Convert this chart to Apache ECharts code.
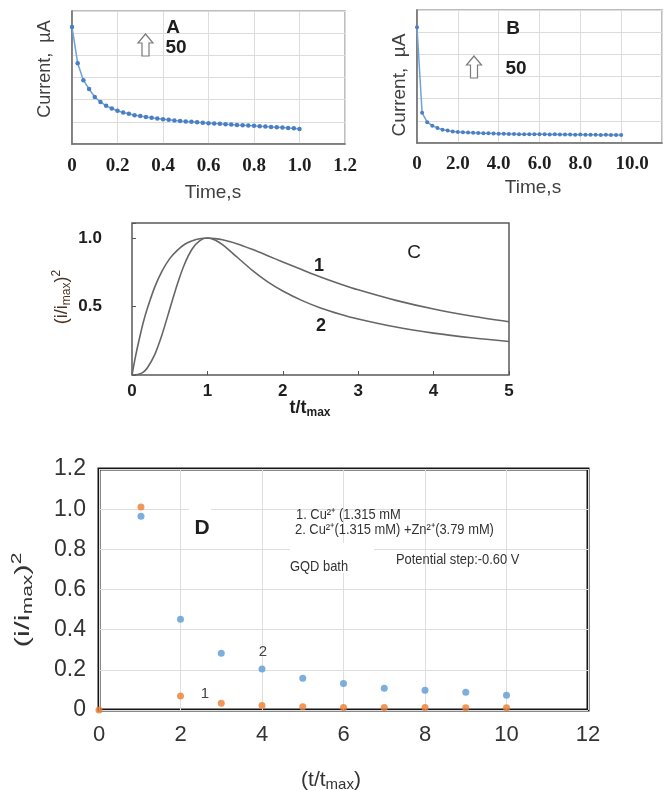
<!DOCTYPE html>
<html><head><meta charset="utf-8">
<script src="https://cdn.jsdelivr.net/npm/echarts@6/dist/echarts.min.js"></script>
<style>html,body{margin:0;padding:0;background:#fff}#c{width:665px;height:791px}</style>
</head><body><div id="c"></div><script>
// ---- Panel A: current transient (0-1 s) ----
const timeA = [0, 0.025, 0.05, 0.075, 0.1, 0.125, 0.15, 0.175, 0.2, 0.225, 0.25, 0.275, 0.3, 0.325, 0.35, 0.375, 0.4, 0.425, 0.45, 0.475, 0.5, 0.525, 0.55, 0.575, 0.6, 0.625, 0.65, 0.675, 0.7, 0.725, 0.75, 0.775, 0.8, 0.825, 0.85, 0.875, 0.9, 0.925, 0.95, 0.975, 1.0];
const currentA = [264, 182, 144, 124, 106, 95, 86, 80, 75, 71, 68, 65, 63, 61, 59, 57.5, 56, 54.5, 53, 52, 51, 50, 49, 48, 47, 46, 45.5, 44.5, 44, 43, 42.5, 41.5, 41, 40, 39.5, 38.5, 38, 37, 36, 35.5, 34];
// ---- Panel B: current transient (0-10 s) ----
const timeB = [0, 0.25, 0.5, 0.75, 1, 1.25, 1.5, 1.75, 2, 2.25, 2.5, 2.75, 3, 3.25, 3.5, 3.75, 4, 4.25, 4.5, 4.75, 5, 5.25, 5.5, 5.75, 6, 6.25, 6.5, 6.75, 7, 7.25, 7.5, 7.75, 8, 8.25, 8.5, 8.75, 9, 9.25, 9.5, 9.75, 10];
const currentB = [261, 68, 47, 39, 34, 30, 28, 26, 25, 24, 23.5, 23, 22.5, 22, 22, 21.5, 21, 21, 20.5, 20.5, 20, 20, 19.5, 20, 19.5, 19.5, 19, 19.5, 19, 19, 19, 18.5, 19, 18.5, 18.5, 18.5, 18, 18.5, 18, 18, 18];
// ---- Panel C: dimensionless transients, curves 1 and 2 ----
const tC = [0, 0.05, 0.1, 0.15, 0.2, 0.3, 0.4, 0.5, 0.6, 0.7, 0.8, 0.9, 1.0, 1.1, 1.2, 1.4, 1.6, 1.8, 2.0, 2.25, 2.5, 2.75, 3.0, 3.5, 4.0, 4.5, 5.0];
const curveC1 = [0, 0.145, 0.27, 0.385, 0.48, 0.64, 0.76, 0.85, 0.91, 0.955, 0.98, 0.995, 1.0, 0.996, 0.987, 0.957, 0.916, 0.871, 0.825, 0.77, 0.716, 0.667, 0.622, 0.545, 0.482, 0.431, 0.389];
const curveC2 = [0, 0.001, 0.007, 0.021, 0.049, 0.147, 0.298, 0.48, 0.661, 0.814, 0.922, 0.982, 1.0, 0.986, 0.952, 0.858, 0.762, 0.68, 0.613, 0.545, 0.49, 0.446, 0.409, 0.35, 0.306, 0.272, 0.245];
// ---- Panel D: experimental (i/imax)^2 vs t/tmax ----
const tD2 = [1.03, 2, 3, 4, 5, 6, 7, 8, 9, 10];
const valuesD2 = [0.965, 0.452, 0.282, 0.204, 0.158, 0.132, 0.108, 0.098, 0.088, 0.073];
const tD1 = [0, 1.03, 2, 3, 4, 5, 6, 7, 8, 9, 10];
const valuesD1 = [0, 1.011, 0.07, 0.033, 0.023, 0.016, 0.013, 0.012, 0.012, 0.011, 0.011];

const pairs = (xs, ys) => xs.map((x, i) => [x, ys[i]]);
const SANS = 'Liberation Sans, Arial, sans-serif';
const SERIF = 'Liberation Serif, Times New Roman, serif';

const chart = echarts.init(document.getElementById('c'), null, {renderer: 'canvas'});

const lightGrid = {show: true, lineStyle: {color: '#dcdcdc', width: 1}};
const noTick = {show: false};

function txt(x, y, text, font, fill, extra) {
  return Object.assign({type: 'text', x: x, y: y, z: 100, silent: true,
    style: {text: text, font: font, fill: fill || '#222', align: 'center', verticalAlign: 'middle'}}, extra || {});
}
function ltxt(x, y, text) {
  return {type: 'text', x: x, y: y, z: 100, scaleX: 0.86, silent: true,
    style: {text: text, font: '15px ' + SANS, fill: '#333', align: 'left', verticalAlign: 'middle'}};
}
function arrow(x, y) {
  return {type: 'polygon', x: x, y: y, z: 100, silent: true,
    shape: {points: [[0, -11], [-7.5, -2], [-3.5, -2], [-3.5, 11], [3.5, 11], [3.5, -2], [7.5, -2]]},
    style: {fill: '#fff', stroke: '#7a7a7a', lineWidth: 1.2}};
}
function whiteBox(x, y, w, h) {
  return {type: 'rect', z: 99, silent: true, shape: {x: x, y: y, width: w, height: h}, style: {fill: '#fff'}};
}
function richTitle(x, y, base, sub, sup, size, subSize, fill, weight, extra) {
  const w = weight || 'normal';
  const rich = {
    a: {fontSize: size, fontFamily: SANS, fontWeight: w, fill: fill, lineHeight: size + 4},
    s: {fontSize: subSize, fontFamily: SANS, fontWeight: w, fill: fill, lineHeight: subSize, verticalAlign: 'bottom'},
    p: {fontSize: subSize, fontFamily: SANS, fontWeight: w, fill: fill, lineHeight: subSize, verticalAlign: 'top'}
  };
  let t = '{a|' + base[0] + '}{s|' + sub + '}';
  if (base[1]) t += '{a|' + base[1] + '}';
  if (sup) t += '{p|' + sup + '}';
  return Object.assign({type: 'text', x: x, y: y, z: 100, silent: true,
    style: {text: t, rich: rich, align: 'center', verticalAlign: 'middle'}}, extra || {});
}

const option = {
  animation: false,
  backgroundColor: '#fff',
  grid: [
    {left: 72, top: 11, width: 273, height: 133, show: true, borderColor: '#a8a8a8', borderWidth: 1.5},
    {left: 417, top: 10, width: 254, height: 133, show: true, borderColor: '#a8a8a8', borderWidth: 1.5},
    {left: 132, top: 223, width: 377, height: 152, show: true, borderColor: '#5a5a5a', borderWidth: 1.5},
    {left: 99, top: 469, width: 489, height: 241, show: true, borderColor: '#151515', borderWidth: 3}
  ],
  xAxis: [
    {gridIndex: 0, type: 'value', min: 0, max: 1.2, interval: 0.2,
      axisLine: {show: true, lineStyle: {color: '#6b6b6b', width: 1.5}}, axisTick: noTick, splitLine: lightGrid,
      axisLabel: {formatter: v => v === 0 ? '0' : v.toFixed(1), fontFamily: SERIF, fontWeight: 'bold', fontSize: 19, color: '#1e1e1e', margin: 13}},
    {gridIndex: 1, type: 'value', min: 0, max: 12, interval: 2,
      axisLine: {show: true, lineStyle: {color: '#6b6b6b', width: 1.5}}, axisTick: noTick, splitLine: lightGrid,
      axisLabel: {formatter: v => v === 0 ? '0' : (v >= 12 ? '' : (v === 10 ? '{r|10.0}' : v.toFixed(1))),
        rich: {r: {fontFamily: SERIF, fontWeight: 'bold', fontSize: 19, color: '#1e1e1e', padding: [0, 0, 0, 22]}},
        fontFamily: SERIF, fontWeight: 'bold', fontSize: 19, color: '#1e1e1e', margin: 12}},
    {gridIndex: 2, type: 'value', min: 0, max: 5, interval: 1,
      axisLine: {show: false}, axisTick: {show: true, inside: true, length: 4, lineStyle: {color: '#555'}}, splitLine: {show: false},
      axisLabel: {fontFamily: SANS, fontWeight: 'bold', fontSize: 17, color: '#1e1e1e', margin: 8}},
    {gridIndex: 3, type: 'value', min: 0, max: 12, interval: 2,
      axisLine: {show: false}, axisTick: noTick, splitLine: {show: true, lineStyle: {color: '#dedede', width: 1}},
      axisLabel: {fontFamily: SANS, fontSize: 22, color: '#333', margin: 14}}
  ],
  yAxis: [
    {gridIndex: 0, type: 'value', min: 0, max: 300, interval: 50,
      axisLine: {show: true, lineStyle: {color: '#6b6b6b', width: 1.5}}, axisTick: noTick, splitLine: lightGrid, axisLabel: {show: false}},
    {gridIndex: 1, type: 'value', min: 0, max: 300, interval: 50,
      axisLine: {show: true, lineStyle: {color: '#6b6b6b', width: 1.5}}, axisTick: noTick, splitLine: lightGrid, axisLabel: {show: false}},
    {gridIndex: 2, type: 'value', min: 0, max: 1.11, interval: 0.5,
      axisLine: {show: false}, axisTick: {show: true, inside: true, length: 4, lineStyle: {color: '#555'}}, splitLine: {show: false},
      axisLabel: {formatter: v => Math.abs(v - 1) < 1e-6 ? '1.0' : (Math.abs(v - 0.5) < 1e-6 ? '0.5' : ''),
        fontFamily: SANS, fontWeight: 'bold', fontSize: 17, color: '#1e1e1e', margin: 30}},
    {gridIndex: 3, type: 'value', min: 0, max: 1.2, interval: 0.2,
      axisLine: {show: false}, axisTick: noTick, splitLine: {show: true, lineStyle: {color: '#dedede', width: 1}},
      axisLabel: {formatter: v => v === 0 ? '0' : v.toFixed(1), fontFamily: SANS, fontSize: 23, color: '#333', margin: 13}}
  ],
  series: [
    {type: 'line', xAxisIndex: 0, yAxisIndex: 0, data: pairs(timeA, currentA), symbol: 'circle', symbolSize: 4.5,
      itemStyle: {color: '#4b7fc4'}, lineStyle: {color: '#6ea2da', width: 1.5}},
    {type: 'line', xAxisIndex: 1, yAxisIndex: 1, data: pairs(timeB, currentB), symbol: 'circle', symbolSize: 4,
      itemStyle: {color: '#4b7fc4'}, lineStyle: {color: '#6ea2da', width: 1.5}},
    {type: 'line', xAxisIndex: 2, yAxisIndex: 2, data: pairs(tC, curveC1), showSymbol: false, smooth: 0.3,
      lineStyle: {color: '#666', width: 1.6}},
    {type: 'line', xAxisIndex: 2, yAxisIndex: 2, data: pairs(tC, curveC2), showSymbol: false, smooth: 0.3,
      lineStyle: {color: '#666', width: 1.6}},
    {type: 'scatter', xAxisIndex: 3, yAxisIndex: 3, data: pairs(tD2, valuesD2), symbolSize: 7,
      itemStyle: {color: '#5b9bd5'}},
    {type: 'scatter', xAxisIndex: 3, yAxisIndex: 3, data: pairs(tD1, valuesD1), symbolSize: 7,
      itemStyle: {color: '#ed7d31'}}
  ],
  graphic: [
    // Panel A
    txt(45, 69, 'Current,  \u00b5A', '18px ' + SANS, '#404040', {rotation: Math.PI / 2}),
    txt(213, 193, 'Time,s', '19px ' + SANS, '#404040'),
    txt(173, 28, 'A', 'bold 19px ' + SANS, '#1e1e1e'),
    txt(176, 48, '50', 'bold 19px ' + SANS, '#1e1e1e'),
    arrow(145.5, 45),
    // Panel B
    txt(400, 85, 'Current,  \u00b5A', '19px ' + SANS, '#404040', {rotation: Math.PI / 2}),
    txt(533, 188, 'Time,s', '19px ' + SANS, '#404040'),
    txt(513, 29, 'B', 'bold 19px ' + SANS, '#1e1e1e'),
    txt(516, 69, '50', 'bold 19px ' + SANS, '#1e1e1e'),
    arrow(474, 67),
    // Panel C
    richTitle(62, 297, ['(i/i', ')'], 'max', '2', 18, 12, '#4a3222', 'normal', {rotation: Math.PI / 2}),
    richTitle(310, 408, ['t/t', ''], 'max', '', 18, 12, '#1e1e1e', 'bold'),
    txt(319, 266, '1', 'bold 18px ' + SANS, '#1e1e1e'),
    txt(321, 326, '2', 'bold 18px ' + SANS, '#1e1e1e'),
    txt(414, 253, 'C', '19px ' + SANS, '#1e1e1e'),
    // Panel D
    whiteBox(290, 543, 84, 30),
    whiteBox(189, 506, 22, 8),
    richTitle(23, 600, ['(i/i', ')'], 'max', '2', 21, 14, '#333', 'normal', {rotation: Math.PI / 2, scaleX: 1.5}),
    richTitle(331, 780, ['(t/t', ')'], 'max', '', 21, 15, '#333', 'normal'),
    txt(202, 528, 'D', 'bold 21px ' + SANS, '#1e1e1e'),
    ltxt(296, 515, '1. Cu\u00b2\u207a (1.315 mM'),
    ltxt(295, 530, '2. Cu\u00b2\u207a(1.315 mM) +Zn\u00b2\u207a(3.79 mM)'),
    ltxt(290, 567, 'GQD bath'),
    ltxt(396, 560, 'Potential step:-0.60 V'),
    txt(263, 652, '2', '15px ' + SANS, '#444'),
    txt(205, 694, '1', '15px ' + SANS, '#444')
  ]
};
chart.setOption(option);
</script></body></html>
